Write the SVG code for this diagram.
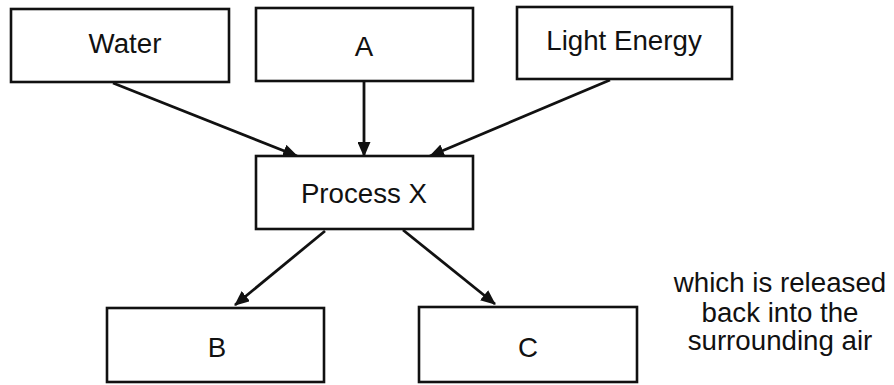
<svg xmlns="http://www.w3.org/2000/svg" width="894" height="385" viewBox="0 0 894 385">
<defs>
<style>
.box{fill:#fff;stroke:#111;stroke-width:2.6}
.t{font-family:"Liberation Sans",Arial,sans-serif;font-size:27.7px;fill:#111;text-anchor:middle}
.c{stroke:#111;stroke-width:2.8;fill:none;marker-end:url(#ah)}
</style>
<marker id="ah" markerWidth="15" markerHeight="13" refX="14" refY="6.5" orient="auto" markerUnits="userSpaceOnUse">
<path d="M0,0 L15,6.5 L0,13 Z" fill="#111"/>
</marker>
</defs>
<rect width="894" height="385" fill="#fff"/>
<g id="connectors">
<line class="c" x1="113" y1="83" x2="297" y2="156"/>
<line class="c" x1="364" y1="82" x2="364" y2="156"/>
<line class="c" x1="610" y1="80" x2="430" y2="156"/>
<line class="c" x1="325" y1="231" x2="235" y2="305"/>
<line class="c" x1="403" y1="230" x2="495" y2="304"/>
</g>
<g id="water"><rect class="box" x="11" y="9" width="218" height="73"/><text class="t" x="125" y="53">Water</text></g>
<g id="a"><rect class="box" x="256" y="8" width="217" height="73"/><text class="t" x="364" y="56">A</text></g>
<g id="light"><rect class="box" x="517" y="7" width="215" height="72"/><text class="t" x="624" y="50">Light Energy</text></g>
<g id="process"><rect class="box" x="256" y="156" width="217" height="73"/><text class="t" x="364" y="203">Process X</text></g>
<g id="b"><rect class="box" x="107" y="308" width="217" height="74"/><text class="t" x="217" y="357">B</text></g>
<g id="c"><rect class="box" x="419" y="307" width="218" height="75"/><text class="t" x="528" y="357">C</text></g>
<g id="note">
<text class="t" x="780" y="292">which is released</text>
<text class="t" x="780" y="322">back into the</text>
<text class="t" x="780" y="350">surrounding air</text>
</g>
</svg>
